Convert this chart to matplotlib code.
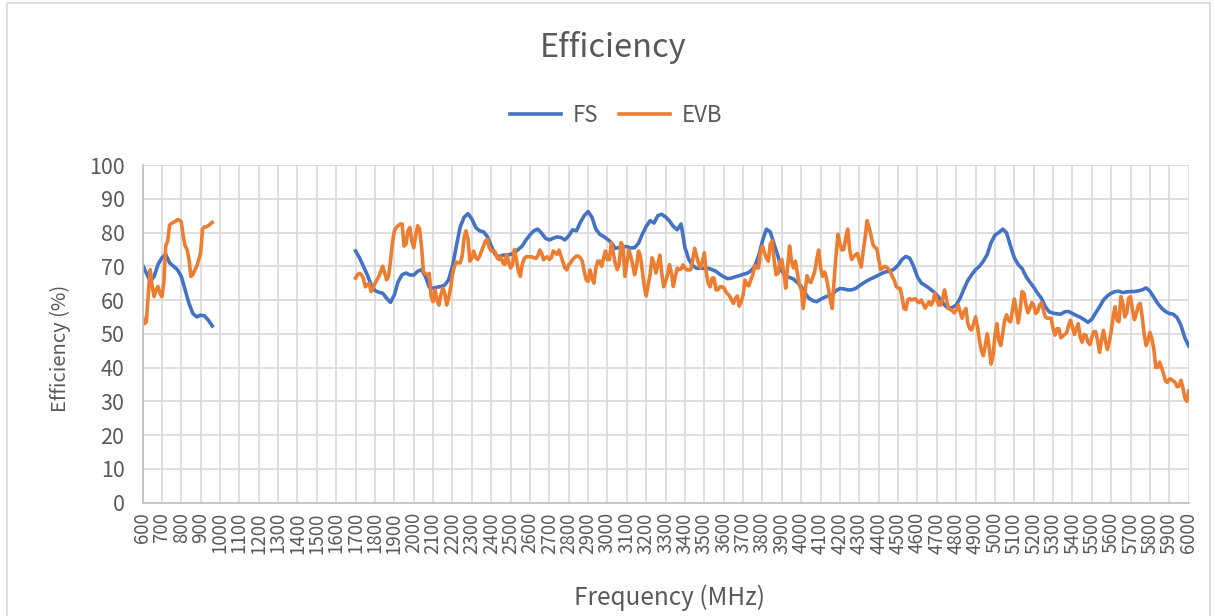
import matplotlib
matplotlib.use("Agg")
import matplotlib.pyplot as plt
import numpy as np
from matplotlib.patches import Rectangle

# FS: 20 MHz steps, EVB: 10 MHz steps. No data between 1000 and 1700 MHz.
fs_freq_low = list(range(600, 961, 20))
fs_low = [70.4, 68, 65.5, 67, 70.5, 72.5, 73.5, 71, 70, 69, 67, 63, 59, 56, 55, 55.5, 55.3, 54, 52.3]

fs_freq_high = list(range(1700, 6001, 20))
fs_high = [
    74.5, 72.5, 70, 67.5, 64.5, 62.8, 62.3, 62, 60.5, 59.3,
    61.5, 65.5, 67.5, 68, 67.4, 67.4, 68.5, 69, 67, 63.8,
    63.5, 63.8, 64, 64.4, 66, 70, 76, 81.7, 84.5, 85.6,
    84, 81.5, 80.5, 80.2, 78.8, 76, 73.5, 72.8, 73.3, 73.3,
    73.5, 74, 75, 76, 77.8, 79.3, 80.5, 81, 79.8, 78.3,
    77.8, 78.3, 78.7, 78.5, 77.8, 79, 80.8, 80.5, 83, 85,
    86.2, 84.5, 81, 79.5, 78.8, 78, 77, 75.3, 75.6, 75.8,
    75.8, 75.4, 75.5, 76.8, 79.5, 81.8, 83.5, 82.8, 85, 85.4,
    84.6, 83.4, 81.8, 80.8, 82.5, 75.5, 72, 70.2, 69.4, 69.4,
    69.4, 69.4, 69, 68.5, 67.6, 66.9, 66.3, 66.5, 66.9, 67.2,
    67.6, 67.9, 68.6, 70, 73, 77.5, 81, 80.2, 76.5, 73,
    68.5, 66.9, 66.7, 66.2, 65.2, 64, 62, 60.5, 59.8, 59.5,
    60.2, 60.8, 61.2, 61.6, 62.8, 63.4, 63.3, 63, 63, 63.4,
    64.2, 65, 65.7, 66.3, 66.8, 67.4, 68, 68.4, 68.5, 69.2,
    70.3, 72, 72.9, 72.4, 70, 66.8, 65, 64.3, 63.5, 62.6,
    61.5, 60, 58.5, 57.5, 57.8, 58.5, 60.5, 63.3, 65.8, 67.5,
    69, 70, 71.5, 73.5, 77, 79.2, 80, 81, 79.9, 76,
    72.5, 70.5, 69.3, 67, 65.3, 63.8, 62, 60.5, 58, 56.5,
    56.1, 55.9, 55.8, 56.5, 56.6, 56, 55.4, 54.9, 54.2, 53.4,
    54.3, 56.2, 58, 60, 61.2, 62, 62.5, 62.6, 62.2, 62.4,
    62.5, 62.5, 62.7, 63, 63.6, 62.6, 60.8, 59, 57.6, 56.6,
    56, 55.8, 54.8, 52.5, 48.8, 46.4,
]

evb_freq_low = list(range(600, 961, 10))
evb_low = [
    55, 53, 53.5, 62, 69, 64, 61, 63, 64, 62,
    61, 65, 76, 77.5, 82.2, 82.7, 83, 83.3, 83.8, 83.7,
    83.2, 79, 76, 75, 72, 67, 67.5, 68.9, 70, 71.9,
    74, 81, 81.7, 81.7, 82, 82.5, 83,
]

evb_freq_high = list(range(1700, 6001, 10))
evb_high = [
    66.5, 67.5, 67.9, 67.5, 66.4, 63.9, 64.5, 64.9, 62.5, 63.5,
    64.9, 66, 67, 68.5, 70, 68, 66, 67, 71.5, 77,
    80.5, 81.5, 82, 82.5, 82.5, 76, 76.5, 80.5, 81.5, 77.5,
    75.5, 79, 82, 81, 76, 68.4, 67.8, 67.4, 67.9, 61,
    59.5, 63, 60, 58.5, 61.5, 63.5, 62, 58.5, 60.5, 63.5,
    67.5, 70, 71.3, 71, 71, 73, 78.5, 80.5, 78, 71.5,
    72.5, 74.5, 72.5, 72, 73, 74.5, 76, 77.5, 78, 75.5,
    74.5, 74.5, 74.3, 72.5, 72, 72.8, 71, 70.5, 73.5, 71,
    69.5, 70.5, 75, 72, 68.5, 67, 70.5, 72.3, 72.8, 72.8,
    72.8, 72.8, 72.5, 72.3, 73, 74.8, 74, 71.9, 72.5, 72.8,
    72, 72.5, 74.5, 74, 73.5, 74.8, 73, 71.2, 69.5, 68.9,
    70.5, 71, 72, 72.5, 73, 73, 72.5, 71.5, 68.5, 66,
    65.5, 68.9, 66.5, 65, 69.5, 71.5, 71.5, 70, 72.5, 74.5,
    72, 72, 77, 74, 70.9, 69, 70.5, 77, 76, 67,
    71, 74.8, 73, 70.5, 67.5, 70, 74.5, 73, 68.5, 64,
    61.2, 64.5, 67.5, 72.5, 71, 68, 70.5, 73.3, 68, 63.9,
    65.5, 67.5, 70.5, 68, 64, 67, 69.4, 69, 69.2, 70.4,
    69.5, 68.9, 68.9, 69, 72, 75.3, 73, 70.9, 69.5, 71.5,
    74, 68, 65, 63.9, 66.5, 66.5, 63, 63, 63.9, 63.9,
    63.7, 62.5, 61.8, 61.2, 60, 59, 60.5, 61.2, 58.2, 59.5,
    61.5, 65.9, 64.5, 64.2, 66, 67.5, 70.2, 69.5, 69.5, 74.5,
    76, 74, 72.5, 71.5, 76.5, 77.5, 72, 67.5, 67.9, 71.5,
    72, 68, 63.5, 70, 76, 71.5, 69.5, 71.5, 68, 64.5,
    63.2, 57.5, 62.5, 67.2, 65.5, 65.2, 66.8, 68.5, 72, 74.8,
    69.5, 67, 68.3, 66.5, 63.5, 60, 57.5, 66, 73.5, 79.5,
    76.5, 74.8, 75, 78.5, 81, 75, 72, 72.8, 73.4, 73.8,
    71.5, 69.8, 74.5, 78.5, 83.5, 81.5, 79.2, 76.5, 75.5, 75.3,
    72, 69, 69.5, 70, 69.7, 69.2, 68.4, 67, 65.9, 64,
    63.5, 63.5, 61, 57.5, 57.2, 60, 60.4, 60, 60.2, 60.4,
    59.5, 59.2, 60, 58.8, 57.6, 58.6, 59.5, 58.5, 59.5, 62,
    60, 58.5, 58.5, 60.5, 63, 60, 57.5, 57.2, 56.8, 56.2,
    57, 58.5, 56.5, 54.6, 56.5, 57.5, 53, 51.5, 51.1, 53,
    55, 52, 48, 45, 43.5, 46.5, 50, 46, 41, 43.5,
    49.5, 53, 48, 46.5, 50, 54, 55.6, 54, 53.5, 57,
    60.3, 57, 53.2, 57, 62.5, 62, 58.5, 56.2, 57.5, 59.2,
    58.5, 56, 56.5, 58.5, 59.2, 57, 55, 54.6, 54.6, 54.6,
    51.5, 49.6, 51.5, 51.5, 48.8, 49.3, 49.8, 50.3, 52.5, 54,
    52, 49.8, 51.5, 53, 49, 47.5, 49.8, 49.5, 47.5, 46.8,
    49, 50.6, 50.6, 48, 44.5, 48, 51, 48, 45.3, 47.5,
    50.8, 55, 58, 54, 53.5, 61, 59, 55, 56, 60.5,
    61, 57, 54.2, 56, 58.5, 59, 55, 50, 46.5, 48,
    50.4, 48.5, 45.5, 40, 40, 41.6, 40, 38.2, 36, 35.6,
    36.6, 36.5, 36, 35.6, 34.3, 34.5, 36.2, 34, 31, 30,
    33,
]

x_ticks = list(range(600, 6001, 100))
y_ticks = list(range(0, 101, 10))

blue = "#4472C4"
orange = "#ED7D31"
grid_c = "#D9D9D9"
text_c = "#595959"

plt.rcParams["font.family"] = ["Noto Sans CJK SC", "DejaVu Sans"]

fig = plt.figure(figsize=(12.15, 6.16), dpi=100)
ax = fig.add_axes([142.5 / 1215, 1 - 502.5 / 616, (1188.7 - 142.5) / 1215, (502.5 - 165) / 616])

# join the two bands with a NaN so each series stays one line
fs_x = fs_freq_low + [np.nan] + fs_freq_high
fs_y = fs_low + [np.nan] + fs_high
evb_x = evb_freq_low + [np.nan] + evb_freq_high
evb_y = evb_low + [np.nan] + evb_high

ax.plot(fs_x, fs_y, color=blue, lw=2.6, label="FS", solid_joinstyle="round")
ax.plot(evb_x, evb_y, color=orange, lw=2.6, label="EVB", solid_joinstyle="round")

ax.set_xlim(600, 6000)
ax.set_ylim(0, 100)
ax.set_xticks(x_ticks)
ax.set_xticklabels([str(t) for t in x_ticks], rotation=90, fontsize=13.5, color=text_c)
ax.set_yticks(y_ticks)
ax.set_yticklabels([str(t) for t in y_ticks], fontsize=15.5, color=text_c)
ax.tick_params(axis="both", length=0)
ax.tick_params(axis="x", pad=7)
ax.tick_params(axis="y", pad=13)
ax.grid(True, color=grid_c, lw=1.2)
ax.set_axisbelow(True)
for s in ["top", "right"]:
    ax.spines[s].set_visible(False)
for s in ["left", "bottom"]:
    ax.spines[s].set_color("#BFBFBF")
    ax.spines[s].set_linewidth(1.2)

fig.text(613 / 1215, 1 - 48 / 616, "Efficiency", ha="center", va="center", fontsize=23.5, color=text_c)
fig.text(670 / 1215, 1 - 598 / 616, "Frequency (MHz)", ha="center", va="center", fontsize=17.5, color=text_c)
fig.text(60 / 1215, 1 - 348 / 616, "Efficiency (%)", ha="center", va="center", rotation=90,
         fontsize=14.5, color=text_c)

fig.legend(loc="center", bbox_to_anchor=(616 / 1215, 1 - 115 / 616), ncol=2, frameon=False,
           fontsize=16, labelcolor=text_c, handlelength=2.3, columnspacing=0.9, handletextpad=0.55)

fig.add_artist(Rectangle((7 / 1215, -0.02), (1210 - 7) / 1215, 1 - 3 / 616 + 0.02,
                         transform=fig.transFigure, fill=False, edgecolor=grid_c, lw=1.2))

fig.savefig("out.png", dpi=100)
